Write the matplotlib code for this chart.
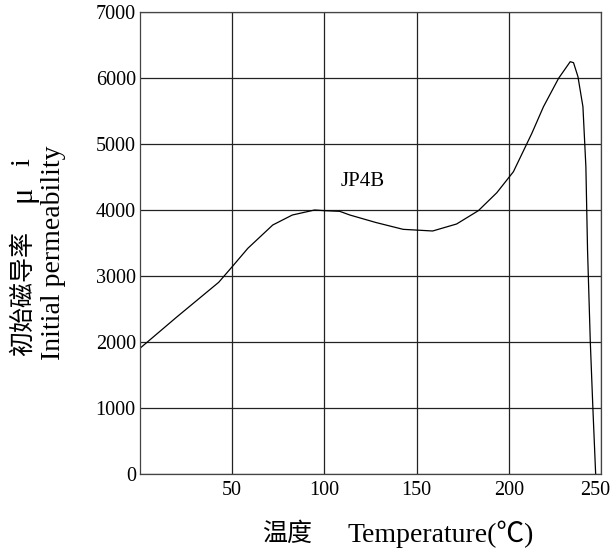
import matplotlib
matplotlib.use("Agg")
import matplotlib.pyplot as plt
import matplotlib.transforms as mtransforms

plt.rcParams["font.family"] = ["Liberation Serif", "Noto Sans CJK SC", "DejaVu Sans"]

# curve (temperature in C, initial permeability)
temps = [0, 20, 42.7, 50, 58.5, 72, 82.6, 94.7, 100, 108.3, 113.8, 128, 142.7,
         158.7, 171.7, 183.5, 193.5, 202.5, 212.5, 218.8, 227, 233.3, 235.1,
         237.5, 240.2, 241.8, 242.7, 244.2, 245.6, 247.1]
mu_i = [1905, 2380, 2905, 3141, 3420, 3773, 3924, 4000, 3990, 3980, 3924, 3810,
        3707, 3682, 3788, 3990, 4262, 4580, 5162, 5565, 5995, 6247, 6232,
        6020, 5565, 4656, 3394, 2000, 995, 0]

x_ticks = [50, 100, 150, 200, 250]
y_ticks = [0, 1000, 2000, 3000, 4000, 5000, 6000, 7000]
curve_label = "JP4B"

W, H = 612, 551
fig = plt.figure(figsize=(W / 100, H / 100), dpi=100)
ax = fig.add_axes([140 / W, 1 - 474 / H, 461 / W, 462 / H])

ax.plot(temps, mu_i, color="black", lw=0.9)
ax.text(121, 4425, curve_label, fontsize=15, ha="center", va="center")

ax.set_xlim(0, 250)
ax.set_ylim(0, 7000)
ax.set_xticks(x_ticks)
ax.set_yticks(y_ticks)
ax.tick_params(length=0, labelsize=14.5)
ax.tick_params(axis="x", pad=5)
ax.tick_params(axis="y", pad=3)
ax.grid(True, color="#222222", lw=0.9)
for s in ax.spines.values():
    s.set_color("#444444")
    s.set_linewidth(0.9)

# last x tick label sits a bit left of its gridline in the original
last = ax.get_xticklabels()[-1]
last.set_transform(last.get_transform() +
                   mtransforms.ScaledTranslation(-6 / 100, 0, fig.dpi_scale_trans))

# x axis title: chinese part a little smaller than the latin part
fig.text(262 / W, 1 - 541 / H, "温度", fontsize=18, ha="left", va="baseline")
fig.text(348 / W, 1 - 542 / H, "Temperature(℃)", fontsize=20,
         ha="left", va="baseline")

# y axis title, two lines
fig.text(23 / W, 1 - 356 / H, "初始磁导率", fontsize=18, rotation=90,
         ha="center", va="bottom")
fig.text(23 / W, 1 - 202 / H, "μ", fontsize=22, rotation=90,
         ha="center", va="bottom")
fig.text(23 / W, 1 - 158 / H, "i", fontsize=20, rotation=90,
         ha="center", va="top")
fig.text(54 / W, 1 - 253 / H, "Initial permeability", fontsize=20,
         rotation=90, ha="center", va="center")

fig.savefig("out.png", dpi=100)
